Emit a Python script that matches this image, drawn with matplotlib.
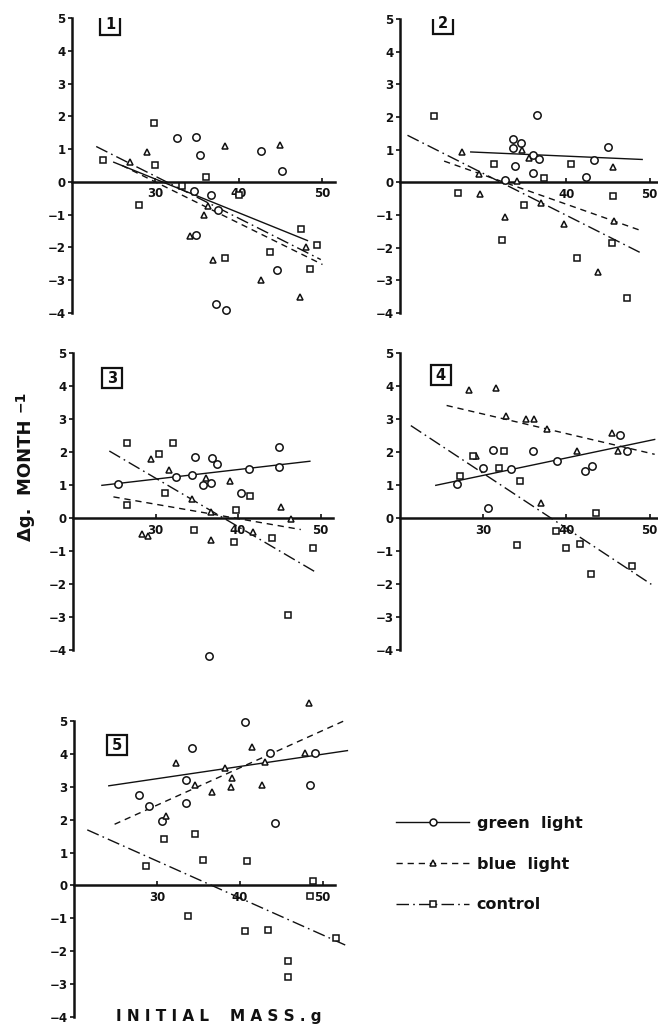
import matplotlib
matplotlib.use("Agg")
import matplotlib.pyplot as plt
from matplotlib.lines import Line2D

plt.rcParams['font.family'] = ['DejaVu Sans']
plt.rcParams['font.weight'] = 'bold'

# ---- data: initial mass (g) vs change in mass (g/month)
# panel 1
g1_x = [32.6, 34.9, 35.3, 34.6, 36.6, 37.5, 34.9, 37.3, 38.5, 42.6, 45.2, 44.5]
g1_y = [1.33, 1.36, 0.83, -0.28, -0.41, -0.85, -1.62, -3.72, -3.9, 0.93, 0.32, -2.7]
b1_x = [27.0, 29.0, 38.3, 44.9, 36.3, 35.8, 34.1, 36.9, 42.6, 47.3, 48.0]
b1_y = [0.62, 0.9, 1.1, 1.12, -0.75, -1.02, -1.66, -2.37, -3.0, -3.5, -1.98]
c1_x = [23.7, 29.8, 29.9, 28.0, 33.2, 36.0, 40.0, 38.3, 43.7, 47.4, 49.4, 48.5]
c1_y = [0.67, 1.8, 0.52, -0.7, -0.14, 0.14, -0.41, -2.32, -2.13, -1.43, -1.93, -2.65]

# panel 2
g2_x = [33.6, 33.6, 34.5, 36.5, 33.8, 36.0, 36.7, 36.0, 32.6, 45.0, 43.3, 42.4]
g2_y = [1.32, 1.06, 1.21, 2.06, 0.5, 0.85, 0.72, 0.29, 0.08, 1.09, 0.68, 0.17]
b2_x = [27.5, 29.5, 29.6, 34.6, 35.5, 34.0, 36.9, 32.6, 39.7, 43.8, 45.6, 45.7]
b2_y = [0.93, 0.25, -0.36, 1.0, 0.73, 0.04, -0.63, -1.05, -1.29, -2.73, 0.47, -1.18]
c2_x = [24.1, 27.0, 31.3, 32.3, 34.9, 37.3, 40.5, 41.3, 45.6, 45.5, 47.3]
c2_y = [2.04, -0.32, 0.55, -1.75, -0.69, 0.12, 0.57, -2.31, -0.43, -1.86, -3.55]

# panel 3
g3_x = [25.5, 32.5, 34.4, 34.8, 35.7, 36.7, 36.8, 37.5, 40.3, 41.3, 45.0, 45.0, 36.5]
g3_y = [1.04, 1.23, 1.31, 1.85, 1.01, 1.05, 1.83, 1.64, 0.76, 1.47, 2.14, 1.55, -4.19]
b3_x = [29.4, 31.6, 36.1, 39.0, 34.4, 36.7, 28.4, 29.1, 36.7, 41.8, 45.2, 46.4]
b3_y = [1.8, 1.44, 1.21, 1.13, 0.59, 0.18, -0.48, -0.54, -0.68, -0.42, 0.33, -0.03]
c3_x = [26.6, 26.6, 30.4, 32.1, 31.1, 34.6, 39.8, 39.5, 41.4, 44.1, 49.1, 46.0]
c3_y = [2.27, 0.38, 1.95, 2.26, 0.75, -0.36, 0.24, -0.73, 0.66, -0.62, -0.92, -2.95]

# panel 4
g4_x = [26.9, 30.0, 30.6, 31.2, 33.3, 36.0, 38.9, 42.2, 43.1, 46.4, 47.3]
g4_y = [1.02, 1.53, 0.3, 2.05, 1.48, 2.02, 1.73, 1.42, 1.59, 2.53, 2.02]
b4_x = [28.3, 31.5, 32.7, 35.1, 36.1, 37.7, 29.1, 41.3, 45.5, 46.2, 37.0]
b4_y = [3.87, 3.95, 3.1, 2.99, 3.01, 2.71, 1.87, 2.03, 2.58, 2.03, 0.44]
c4_x = [27.2, 28.8, 31.9, 32.5, 34.4, 34.1, 38.8, 39.9, 41.6, 43.0, 43.5, 47.9]
c4_y = [1.27, 1.88, 1.51, 2.04, 1.12, -0.83, -0.39, -0.92, -0.79, -1.7, 0.16, -1.44]

# panel 5
g5_x = [27.9, 29.1, 30.6, 33.5, 33.5, 34.3, 40.6, 43.7, 44.3, 48.5, 49.1]
g5_y = [2.74, 2.43, 1.96, 3.21, 2.51, 4.18, 4.96, 4.02, 1.91, 3.06, 4.02]
b5_x = [32.3, 31.1, 34.6, 36.7, 38.2, 39.1, 38.9, 41.5, 42.7, 43.1, 47.9, 48.4]
b5_y = [3.73, 2.1, 3.04, 2.85, 3.56, 3.26, 3.0, 4.22, 3.04, 3.74, 4.04, 5.54]
c5_x = [28.7, 30.9, 34.6, 35.6, 33.7, 40.9, 40.6, 43.4, 45.8, 45.8, 48.9, 48.5, 51.6]
c5_y = [0.58, 1.42, 1.57, 0.76, -0.94, 0.74, -1.37, -1.35, -2.29, -2.79, 0.15, -0.31, -1.6]

# fitted regression lines as drawn: (x start, y start, x end, y end)
fit_green = [(25.0, 0.6, 48.2, -1.79), (28.5, 0.93, 49.1, 0.7), (23.5, 0.99, 48.7, 1.72),
             (24.3, 0.99, 50.6, 2.38), (24.2, 3.03, 53.0, 4.1)]
fit_blue = [(26.0, 0.5, 50.0, -2.52), (25.3, 0.65, 49.1, -1.49), (24.9, 0.64, 47.6, -0.35),
            (25.6, 3.41, 50.6, 1.93), (24.9, 1.86, 53.0, 5.05)]
fit_ctrl = [(22.9, 1.08, 49.8, -2.37), (20.9, 1.44, 49.1, -2.18), (24.4, 2.03, 49.4, -1.64),
            (21.3, 2.8, 50.2, -2.01), (21.6, 1.69, 52.9, -1.83)]

panel_ids = ['1', '2', '3', '4', '5']
xticks = [30, 40, 50]
yticks = [-4, -3, -2, -1, 0, 1, 2, 3, 4, 5]

W, H = 658, 1027
fig = plt.figure(figsize=(W / 100, H / 100), dpi=100)

# axes boxes in pixels: left, right, top, bottom, and x upper limit
boxes = [(72, 335, 18, 313, 51.5), (400, 658, 19, 313, 51.0),
         (73, 333, 353, 650, 51.5), (400, 658, 353, 650, 51.0),
         (74, 335, 721, 1017, 51.5)]
label_pos = [(24.6, 4.8), (25.2, 4.86), (24.7, 4.24), (24.9, 4.32), (25.2, 4.26)]

groups = [(g1_x, g1_y, b1_x, b1_y, c1_x, c1_y), (g2_x, g2_y, b2_x, b2_y, c2_x, c2_y),
          (g3_x, g3_y, b3_x, b3_y, c3_x, c3_y), (g4_x, g4_y, b4_x, b4_y, c4_x, c4_y),
          (g5_x, g5_y, b5_x, b5_y, c5_x, c5_y)]

ink = '#111111'
ls_green = '-'
ls_blue = (0, (4.5, 3.5))
ls_ctrl = (0, (9, 3, 1.2, 3))

for i in range(5):
    l, r, t, b, xmax = boxes[i]
    ax = fig.add_axes([l / W, 1 - b / H, (r - l) / W, (b - t) / H])
    ax.set_xlim(20, xmax)
    ax.set_ylim(-4, 5)
    ax.patch.set_alpha(0)
    for s in ['top', 'right']:
        ax.spines[s].set_visible(False)
    ax.spines['bottom'].set_position(('data', 0))
    ax.spines['left'].set_linewidth(1.8)
    ax.spines['bottom'].set_linewidth(1.8)
    ax.spines['left'].set_color(ink)
    ax.spines['bottom'].set_color(ink)

    ax.set_yticks(yticks)
    ax.set_yticklabels([str(v).replace('-', '\u2212') for v in yticks])
    xt = xticks if i != 1 else [40, 50]
    ax.set_xticks(xt)
    ax.set_xticklabels([str(v) for v in xt])
    ax.tick_params(axis='y', direction='out', length=3, width=1.2, pad=1.5,
                   labelsize=8.5, colors=ink)
    ax.tick_params(axis='x', direction='in', length=3, width=1.2, pad=4,
                   labelsize=8.5, colors=ink)
    for lab in ax.get_xticklabels() + ax.get_yticklabels():
        lab.set_fontweight('bold')

    gx, gy, bx, by, cx, cy = groups[i]
    for f, ls in [(fit_green[i], ls_green), (fit_blue[i], ls_blue), (fit_ctrl[i], ls_ctrl)]:
        ax.plot([f[0], f[2]], [f[1], f[3]], color=ink, lw=1.0, linestyle=ls,
                clip_on=False, zorder=2)

    ax.plot(gx, gy, 'o', ms=5.3, mfc='white', mec=ink, mew=1.1, ls='none',
            clip_on=False, zorder=3)
    ax.plot(bx, by, '^', ms=4.2, mfc='white', mec=ink, mew=1.1, ls='none',
            clip_on=False, zorder=3)
    ax.plot(cx, cy, 's', ms=4.3, mfc='white', mec=ink, mew=1.1, ls='none',
            clip_on=False, zorder=3)

    # boxed panel number
    lx, ly = label_pos[i]
    ax.plot([lx], [ly], marker='s', ms=14.5, mfc='white', mec=ink, mew=1.6,
            ls='none', zorder=4)
    ax.text(lx, ly, panel_ids[i], ha='center', va='center', fontsize=10.5,
            fontweight='bold', color=ink, zorder=5)

fig.text(26 / W, 1 - 480 / H, '\u0394g.  MONTH', rotation=90,
         ha='center', va='center', fontsize=13, fontweight='bold', color=ink)
fig.text(21 / W, 1 - 401 / H, '\u22121', rotation=90,
         ha='center', va='center', fontsize=10, fontweight='bold', color=ink)
fig.text(219 / W, 1 - 1017 / H, 'I N I T I A L    M A S S . g', ha='center',
         va='center', fontsize=11, fontweight='bold', color=ink)

handles = [Line2D([], [], color=ink, lw=1.0, ls=ls_green, marker='o', ms=5,
                  mfc='white', mec=ink, mew=1.1),
           Line2D([], [], color=ink, lw=1.0, ls=ls_blue, marker='^', ms=4.2,
                  mfc='white', mec=ink, mew=1.1),
           Line2D([], [], color=ink, lw=1.0, ls=ls_ctrl, marker='s', ms=4.3,
                  mfc='white', mec=ink, mew=1.1)]
leg = fig.legend(handles, ['green  light', 'blue  light', 'control'],
                 loc='upper left', bbox_to_anchor=(396 / W, 1 - 816 / H),
                 frameon=False, numpoints=1, handlelength=4.6, handletextpad=0.45,
                 labelspacing=1.6, borderpad=0, borderaxespad=0,
                 prop={'size': 11.5, 'weight': 'bold'})
for txt in leg.get_texts():
    txt.set_color(ink)

fig.savefig('out.png', dpi=100)
